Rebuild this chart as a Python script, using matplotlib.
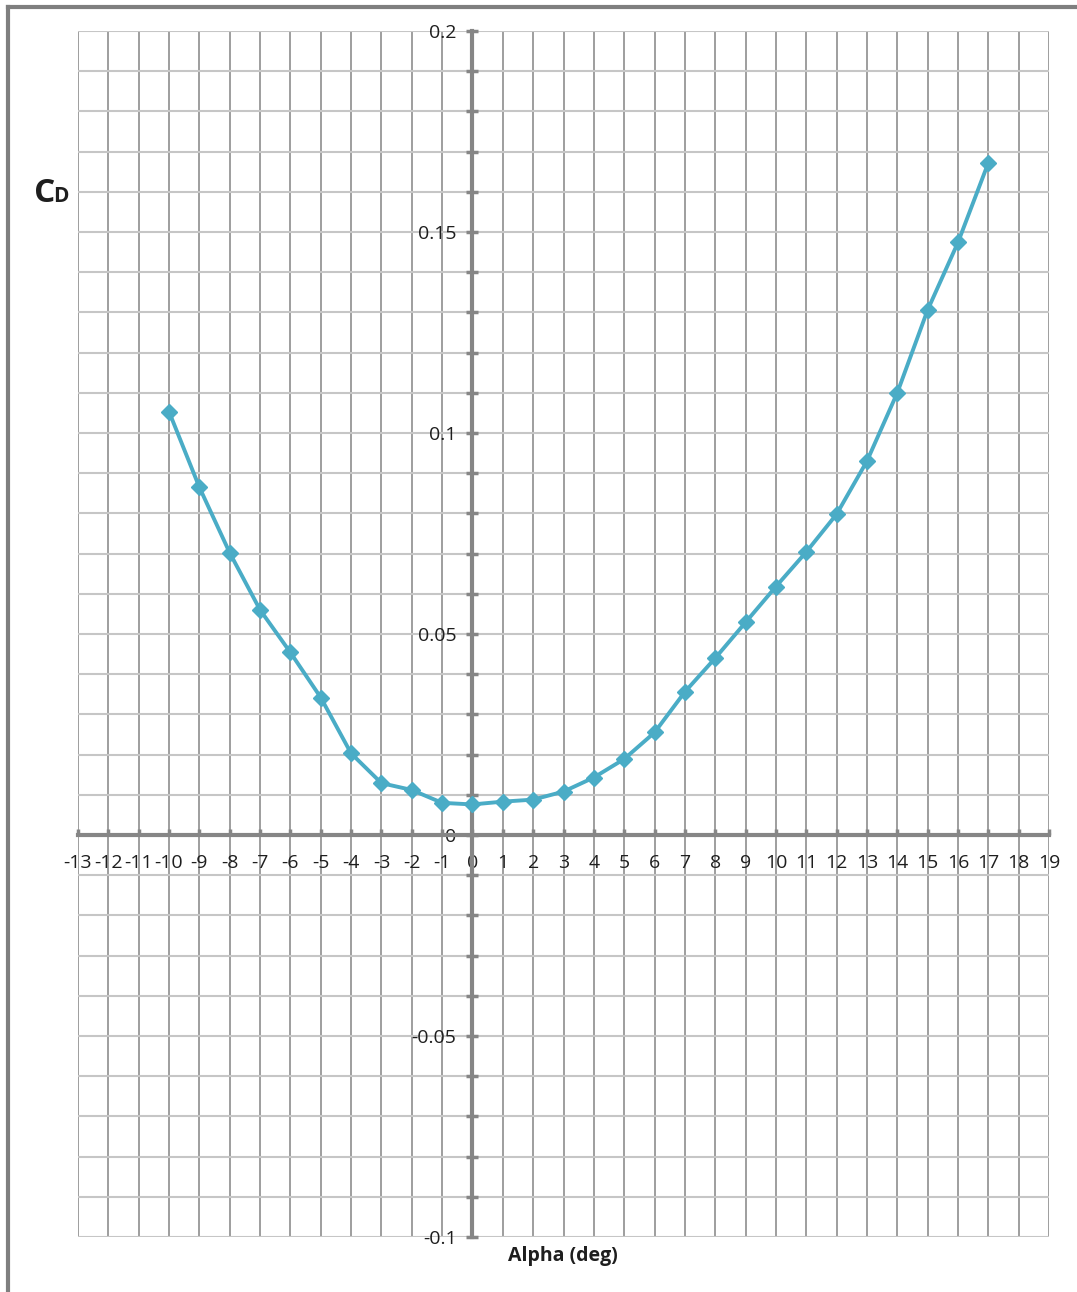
import matplotlib
matplotlib.use("Agg")
import matplotlib.pyplot as plt
from matplotlib.lines import Line2D
from matplotlib.ticker import FixedLocator, FixedFormatter, MultipleLocator

# Drag coefficient vs. angle of attack
alpha_deg = [-10, -9, -8, -7, -6, -5, -4, -3, -2, -1, 0, 1, 2, 3, 4, 5, 6, 7,
             8, 9, 10, 11, 12, 13, 14, 15, 16, 17]
cd = [0.1053, 0.0865, 0.0702, 0.0560, 0.0454, 0.0342, 0.0203, 0.0129, 0.0112,
      0.0080, 0.0076, 0.0083, 0.0088, 0.0108, 0.0143, 0.0189, 0.0255, 0.0356,
      0.0440, 0.0529, 0.0618, 0.0704, 0.0798, 0.0930, 0.1100, 0.1306, 0.1474,
      0.1672]

x_ticks = list(range(-13, 20))
y_ticks = [-0.1, -0.05, 0, 0.05, 0.1, 0.15, 0.2]
y_tick_labels = ["-0.1", "-0.05", "0", "0.05", "0.1", "0.15", "0.2"]

FONT = ["Open Sans", "DejaVu Sans"]
plt.rcParams["font.family"] = FONT
AXIS_GRAY = "#868686"
LINE_BLUE = "#4aacc6"
TEXT = "#1e1e1e"

fig = plt.figure(figsize=(10.77, 12.92), dpi=100)
ax = fig.add_axes([78 / 1077, 1 - 1237 / 1292, (1049 - 78) / 1077, (1237 - 31) / 1292])

ax.set_xlim(-13, 19)
ax.set_ylim(-0.1, 0.2)

# Axes crossing at the origin
for side in ("top", "right"):
    ax.spines[side].set_visible(False)
ax.spines["left"].set_position(("data", 0))
ax.spines["bottom"].set_position(("data", 0))
for side in ("left", "bottom"):
    ax.spines[side].set_color(AXIS_GRAY)
    ax.spines[side].set_linewidth(3)
    ax.spines[side].set_zorder(2.5)

ax.xaxis.set_major_locator(FixedLocator(x_ticks))
ax.xaxis.set_major_formatter(FixedFormatter([str(v) for v in x_ticks]))
ax.yaxis.set_major_locator(FixedLocator(y_ticks))
ax.yaxis.set_major_formatter(FixedFormatter(y_tick_labels))
ax.yaxis.set_minor_locator(MultipleLocator(0.01))

ax.tick_params(axis="x", which="major", direction="in", length=4, width=2.5,
               color=AXIS_GRAY, pad=14, labelsize=14, labelcolor=TEXT)
ax.tick_params(axis="y", which="both", direction="inout", length=9, width=2.5,
               color=AXIS_GRAY)
ax.tick_params(axis="y", which="major", pad=7, labelsize=14, labelcolor=TEXT)

# Grid: darker vertical lines, lighter horizontal lines
for xv in x_ticks:
    ax.axvline(xv, color="#8e8e8e", lw=1.2, zorder=0.5)
ax.grid(False)
ax.grid(True, axis="y", which="both", color="#c6c6c6", lw=1.5, zorder=0.4)
ax.set_axisbelow(True)

ax.plot(alpha_deg, cd, color=LINE_BLUE, lw=2.8, marker="D", ms=8.5,
        markerfacecolor=LINE_BLUE, markeredgecolor=LINE_BLUE, zorder=3,
        solid_joinstyle="round")

# Axis titles
fig.text(34 / 1077, 1 - 202 / 1292, "C", fontsize=24, fontweight="bold",
         ha="left", va="baseline", color=TEXT)
fig.text(53 / 1077, 1 - 202 / 1292, "D", fontsize=15, fontweight="bold",
         ha="left", va="baseline", color=TEXT)
fig.text(563 / 1077, 1 - 1256 / 1292, "Alpha (deg)", fontsize=14,
         fontweight="bold", ha="center", va="center", color=TEXT)

# Outer frame along the top and left edges
fig.add_artist(Line2D([8 / 1077, 8 / 1077], [0, 1 - 7 / 1292],
                      transform=fig.transFigure, color="#7f7f7f", lw=3))
fig.add_artist(Line2D([8 / 1077, 1], [1 - 7 / 1292, 1 - 7 / 1292],
                      transform=fig.transFigure, color="#7f7f7f", lw=3))

fig.savefig("out.png", dpi=100, facecolor="white")
